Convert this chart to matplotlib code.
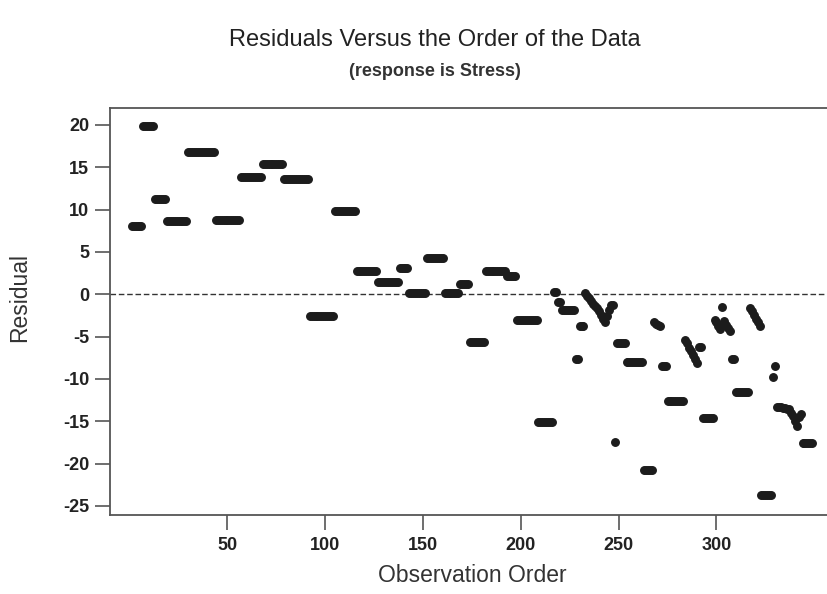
import numpy as np
import matplotlib
matplotlib.use("Agg")
import matplotlib.pyplot as plt

plt.rcParams['font.family'] = ['Liberation Sans', 'DejaVu Sans']
plt.rcParams['axes.unicode_minus'] = False

# residuals, stored as runs of consecutive
# observations that share the same residual (single points are runs of 1)
run_lengths = [6, 6, 6, 11, 14, 13, 11, 11, 13, 13, 11, 11, 11, 5, 9, 9, 8, 5, 8, 11, 5, 11, 8,
               2, 2, 7, 2, 3,
               1, 1, 1, 1, 1, 1, 1, 1, 1, 1, 1, 1, 1, 1, 1,
               1, 5, 9, 5,
               1, 1, 1, 1,
               3, 9,
               1, 1, 1, 1, 1, 1, 1,
               2, 6,
               1, 1, 1, 1, 1, 1, 1, 1, 1,
               2, 7,
               1, 1, 1, 1, 1, 1,
               6,
               1, 1,
               1, 1, 1, 1, 1, 1, 1, 1, 1, 1, 1, 1, 1,
               6]
run_values = [8.1, 19.9, 11.2, 8.7, 16.8, 8.8, 13.8, 15.4, 13.6, -2.6, 9.8, 2.8, 1.5, 3.1, 0.1,
              4.3, 0.1, 1.2, -5.6, 2.8, 2.2, -3.0, -15.1,
              0.3, -0.9, -1.8, -7.7, -3.7,
              0.2, -0.2, -0.5, -0.8, -1.1, -1.4, -1.6, -2.0, -2.4, -2.9, -3.3, -2.6, -1.8, -1.3, -1.3,
              -17.4, -5.7, -8.0, -20.7,
              -3.3, -3.5, -3.6, -3.7,
              -8.5, -12.6,
              -5.4, -5.8, -6.3, -6.7, -7.2, -7.6, -8.1,
              -6.2, -14.6,
              -3.0, -3.3, -3.7, -4.1, -1.5, -3.2, -3.6, -4.0, -4.3,
              -7.6, -11.6,
              -1.6, -2.0, -2.5, -2.9, -3.3, -3.8,
              -23.7,
              -9.8, -8.5,
              -13.3, -13.3, -13.3, -13.4, -13.4, -13.5, -13.6, -14.0, -14.4, -15.0, -15.6, -14.5, -14.2,
              -17.6]

x_ticks = [50, 100, 150, 200, 250, 300]
y_ticks = [20, 15, 10, 5, 0, -5, -10, -15, -20, -25]

residual = np.repeat(run_values, run_lengths)
order = np.arange(1, len(residual) + 1)

fig = plt.figure(figsize=(8.27, 5.94), dpi=100)
# the plot frame runs past the right edge of the picture, as in the reference
ax = fig.add_axes([0.133, 0.133, 0.88, 0.6852])

ax.axhline(0, color='#333333', lw=1.0, ls=(0, (4, 2)), zorder=1)
ax.plot(order, residual, 'o', ms=5.4, color='#1c1c1c', mec='#1c1c1c', ls='none', zorder=2)

ax.set_xlim(-10.07, 362.0)
ax.set_ylim(-26.07, 22.0)
ax.set_xticks(x_ticks)
ax.set_yticks(y_ticks)
ax.tick_params(direction='out', length=10.5, width=1.2, color='#555555', labelsize=13)
ax.tick_params(axis='x', pad=5.5)
ax.tick_params(axis='y', pad=4.5)
for lab in ax.get_xticklabels() + ax.get_yticklabels():
    lab.set_fontweight('bold')
    lab.set_color('#222222')

for side in ['top', 'bottom', 'left', 'right']:
    ax.spines[side].set_color('#555555')
    ax.spines[side].set_linewidth(1.3)

fig.text(472 / 827, 1 - 576 / 594, 'Observation Order', ha='center', va='center',
         fontsize=16.5, color='#333333')
fig.text(20 / 827, 1 - 297 / 594, 'Residual', ha='center', va='center', rotation=90,
         fontsize=16.5, color='#333333')

fig.text(435 / 827, 1 - 40 / 594, 'Residuals Versus the Order of the Data', ha='center',
         va='center', fontsize=17, color='#222222')
fig.text(435 / 827, 1 - 72 / 594, '(response is Stress)', ha='center', va='center',
         fontsize=13, fontweight='bold', color='#333333')

fig.savefig('out.png', dpi=100)
